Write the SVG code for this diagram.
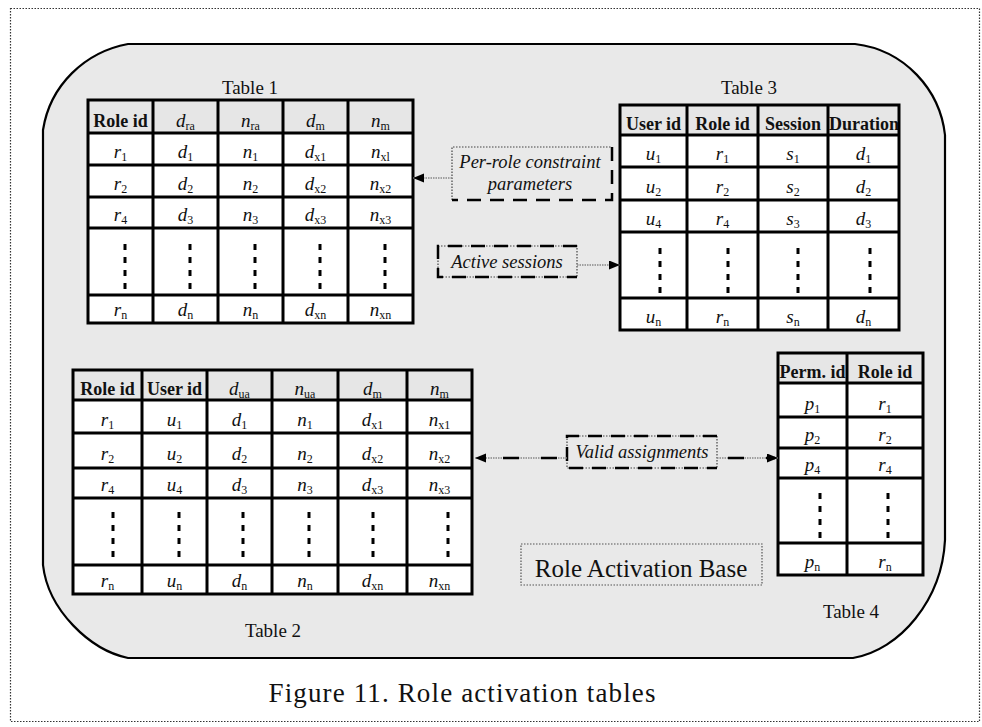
<svg xmlns="http://www.w3.org/2000/svg" width="982" height="727" viewBox="0 0 982 727">
<style>
.tl{fill:none;stroke:#000;stroke-width:3}
.hdr{fill:#e6e6e6}
.body{fill:#fff}
.h{font-family:"Liberation Serif","Times New Roman",serif;font-weight:bold;font-size:18px;text-anchor:middle;fill:#111}
.v{font-family:"Liberation Serif","Times New Roman",serif;font-style:italic;font-size:19px;text-anchor:middle;fill:#111}
.s{font-style:normal;font-size:12px}
.ttl{font-family:"Liberation Serif","Times New Roman",serif;font-size:19px;text-anchor:middle;fill:#111}
.lbl{font-family:"Liberation Serif","Times New Roman",serif;font-style:italic;font-size:18.5px;text-anchor:middle;fill:#111}
.dots{fill:none;stroke:#000;stroke-width:3;stroke-dasharray:6 7}
.thin{fill:none;stroke:#444;stroke-width:1.2;stroke-dasharray:1.5 1.5}
.thick{fill:none;stroke:#000;stroke-width:2.5;stroke-dasharray:14 9}
.conn{fill:none;stroke:#888;stroke-width:1.5;stroke-dasharray:1.5 1}
.conn2{fill:none;stroke:#000;stroke-width:2.5;stroke-dasharray:16 22}
</style>
<defs>
<marker id="ah" markerUnits="userSpaceOnUse" markerWidth="12" markerHeight="10" refX="11" refY="4.5" orient="auto">
<path d="M0,0 L11,4.5 L0,9 z" fill="#000"/>
</marker>
</defs>

<rect x="10.5" y="8.5" width="969" height="713" fill="#fff" stroke="#333" stroke-width="1.2" stroke-dasharray="1.5 1.5"/>

<path id="blob" d="M128,44 L855,44 C905,50 940,90 945,135 L945,540 C942,600 900,650 853,658 L128,658 C90,650 48,610 43,565 L43,130 C50,85 85,52 128,44 Z" fill="#e9e9e9" stroke="#000" stroke-width="2.2"/>

<g id="table1">
<text class="ttl" x="250" y="94">Table 1</text>
<rect class="hdr" x="88" y="100" width="325" height="33"/>
<rect class="body" x="88" y="133" width="325" height="190"/>
<path class="tl" d="M88,100H413V323H88Z M88,133H413 M88,165H413 M88,197H413 M88,228H413 M88,295H413 M153,100V323 M218,100V323 M283,100V323 M348,100V323"/>
<path class="dots" d="M125,244V289 M190,244V289 M255,244V289 M320,244V289 M385,244V289"/>
<text class="h" x="120.5" y="127">Role id</text>
<text class="v" x="185.5" y="127">d<tspan class="s" dy="3">ra</tspan></text>
<text class="v" x="250.5" y="127">n<tspan class="s" dy="3">ra</tspan></text>
<text class="v" x="315.5" y="127">d<tspan class="s" dy="3">m</tspan></text>
<text class="v" x="380.5" y="127">n<tspan class="s" dy="3">m</tspan></text>
<text class="v" x="120.5" y="158">r<tspan class="s" dy="3">1</tspan></text>
<text class="v" x="185.5" y="158">d<tspan class="s" dy="3">1</tspan></text>
<text class="v" x="250.5" y="158">n<tspan class="s" dy="3">1</tspan></text>
<text class="v" x="315.5" y="158">d<tspan class="s" dy="3">x1</tspan></text>
<text class="v" x="380.5" y="158">n<tspan class="s" dy="3">xl</tspan></text>
<text class="v" x="120.5" y="190">r<tspan class="s" dy="3">2</tspan></text>
<text class="v" x="185.5" y="190">d<tspan class="s" dy="3">2</tspan></text>
<text class="v" x="250.5" y="190">n<tspan class="s" dy="3">2</tspan></text>
<text class="v" x="315.5" y="190">d<tspan class="s" dy="3">x2</tspan></text>
<text class="v" x="380.5" y="190">n<tspan class="s" dy="3">x2</tspan></text>
<text class="v" x="120.5" y="221">r<tspan class="s" dy="3">4</tspan></text>
<text class="v" x="185.5" y="221">d<tspan class="s" dy="3">3</tspan></text>
<text class="v" x="250.5" y="221">n<tspan class="s" dy="3">3</tspan></text>
<text class="v" x="315.5" y="221">d<tspan class="s" dy="3">x3</tspan></text>
<text class="v" x="380.5" y="221">n<tspan class="s" dy="3">x3</tspan></text>
<text class="v" x="120.5" y="316">r<tspan class="s" dy="3">n</tspan></text>
<text class="v" x="185.5" y="316">d<tspan class="s" dy="3">n</tspan></text>
<text class="v" x="250.5" y="316">n<tspan class="s" dy="3">n</tspan></text>
<text class="v" x="315.5" y="316">d<tspan class="s" dy="3">xn</tspan></text>
<text class="v" x="380.5" y="316">n<tspan class="s" dy="3">xn</tspan></text>
</g>

<g id="table3">
<text class="ttl" x="749" y="94">Table 3</text>
<rect class="hdr" x="620" y="105" width="279" height="30"/>
<rect class="body" x="620" y="135" width="279" height="195"/>
<text class="h" x="653.5" y="130">User id</text>
<text class="h" x="722.5" y="130">Role id</text>
<text class="h" x="793" y="130">Session</text>
<text class="h" x="864" y="130">Duration</text>
<path class="tl" d="M620,105H899V330H620Z M620,135H899 M620,167H899 M620,200H899 M620,232H899 M620,298H899 M687,105V330 M758,105V330 M828,105V330"/>
<path class="dots" d="M660,248V293 M728,248V293 M798,248V293 M870,248V293"/>
<text class="v" x="653.5" y="160">u<tspan class="s" dy="3">1</tspan></text>
<text class="v" x="722.5" y="160">r<tspan class="s" dy="3">1</tspan></text>
<text class="v" x="793" y="160">s<tspan class="s" dy="3">1</tspan></text>
<text class="v" x="863.5" y="160">d<tspan class="s" dy="3">1</tspan></text>
<text class="v" x="653.5" y="193">u<tspan class="s" dy="3">2</tspan></text>
<text class="v" x="722.5" y="193">r<tspan class="s" dy="3">2</tspan></text>
<text class="v" x="793" y="193">s<tspan class="s" dy="3">2</tspan></text>
<text class="v" x="863.5" y="193">d<tspan class="s" dy="3">2</tspan></text>
<text class="v" x="653.5" y="225">u<tspan class="s" dy="3">4</tspan></text>
<text class="v" x="722.5" y="225">r<tspan class="s" dy="3">4</tspan></text>
<text class="v" x="793" y="225">s<tspan class="s" dy="3">3</tspan></text>
<text class="v" x="863.5" y="225">d<tspan class="s" dy="3">3</tspan></text>
<text class="v" x="653.5" y="323">u<tspan class="s" dy="3">n</tspan></text>
<text class="v" x="722.5" y="323">r<tspan class="s" dy="3">n</tspan></text>
<text class="v" x="793" y="323">s<tspan class="s" dy="3">n</tspan></text>
<text class="v" x="863.5" y="323">d<tspan class="s" dy="3">n</tspan></text>
</g>

<g id="table2">
<text class="ttl" x="273" y="637">Table 2</text>
<rect class="hdr" x="73" y="370" width="399" height="30"/>
<rect class="body" x="73" y="400" width="399" height="194"/>
<path class="tl" d="M73,370H472V594H73Z M73,400H472 M73,433H472 M73,468H472 M73,498H472 M73,565H472 M142,370V594 M207,370V594 M272,370V594 M338,370V594 M407,370V594"/>
<path class="dots" d="M113,512V558 M179,512V558 M243,512V558 M309,512V558 M373,512V558 M448,512V558"/>
<text class="h" x="107.5" y="395">Role id</text>
<text class="h" x="174.5" y="395">User id</text>
<text class="v" x="239.5" y="395">d<tspan class="s" dy="3">ua</tspan></text>
<text class="v" x="305" y="395">n<tspan class="s" dy="3">ua</tspan></text>
<text class="v" x="372.5" y="395">d<tspan class="s" dy="3">m</tspan></text>
<text class="v" x="439.5" y="395">n<tspan class="s" dy="3">m</tspan></text>
<text class="v" x="107.5" y="426">r<tspan class="s" dy="3">1</tspan></text>
<text class="v" x="174.5" y="426">u<tspan class="s" dy="3">1</tspan></text>
<text class="v" x="239.5" y="426">d<tspan class="s" dy="3">1</tspan></text>
<text class="v" x="305" y="426">n<tspan class="s" dy="3">1</tspan></text>
<text class="v" x="372.5" y="426">d<tspan class="s" dy="3">x1</tspan></text>
<text class="v" x="439.5" y="426">n<tspan class="s" dy="3">x1</tspan></text>
<text class="v" x="107.5" y="460">r<tspan class="s" dy="3">2</tspan></text>
<text class="v" x="174.5" y="460">u<tspan class="s" dy="3">2</tspan></text>
<text class="v" x="239.5" y="460">d<tspan class="s" dy="3">2</tspan></text>
<text class="v" x="305" y="460">n<tspan class="s" dy="3">2</tspan></text>
<text class="v" x="372.5" y="460">d<tspan class="s" dy="3">x2</tspan></text>
<text class="v" x="439.5" y="460">n<tspan class="s" dy="3">x2</tspan></text>
<text class="v" x="107.5" y="491">r<tspan class="s" dy="3">4</tspan></text>
<text class="v" x="174.5" y="491">u<tspan class="s" dy="3">4</tspan></text>
<text class="v" x="239.5" y="491">d<tspan class="s" dy="3">3</tspan></text>
<text class="v" x="305" y="491">n<tspan class="s" dy="3">3</tspan></text>
<text class="v" x="372.5" y="491">d<tspan class="s" dy="3">x3</tspan></text>
<text class="v" x="439.5" y="491">n<tspan class="s" dy="3">x3</tspan></text>
<text class="v" x="107.5" y="587">r<tspan class="s" dy="3">n</tspan></text>
<text class="v" x="174.5" y="587">u<tspan class="s" dy="3">n</tspan></text>
<text class="v" x="239.5" y="587">d<tspan class="s" dy="3">n</tspan></text>
<text class="v" x="305" y="587">n<tspan class="s" dy="3">n</tspan></text>
<text class="v" x="372.5" y="587">d<tspan class="s" dy="3">xn</tspan></text>
<text class="v" x="439.5" y="587">n<tspan class="s" dy="3">xn</tspan></text>
</g>

<g id="table4">
<text class="ttl" x="851" y="618">Table 4</text>
<rect class="hdr" x="778" y="353" width="145" height="30"/>
<rect class="body" x="778" y="383" width="145" height="192"/>
<text class="h" x="812.5" y="378">Perm. id</text>
<text class="h" x="885" y="378">Role id</text>
<path class="tl" d="M778,353H923V575H778Z M778,383H923 M778,417H923 M778,448H923 M778,478H923 M778,543H923 M847,353V575"/>
<path class="dots" d="M820,493V538 M888,493V538"/>
<text class="v" x="812.5" y="410">p<tspan class="s" dy="3">1</tspan></text>
<text class="v" x="885" y="410">r<tspan class="s" dy="3">1</tspan></text>
<text class="v" x="812.5" y="441">p<tspan class="s" dy="3">2</tspan></text>
<text class="v" x="885" y="441">r<tspan class="s" dy="3">2</tspan></text>
<text class="v" x="812.5" y="471">p<tspan class="s" dy="3">4</tspan></text>
<text class="v" x="885" y="471">r<tspan class="s" dy="3">4</tspan></text>
<text class="v" x="812.5" y="568">p<tspan class="s" dy="3">n</tspan></text>
<text class="v" x="885" y="568">r<tspan class="s" dy="3">n</tspan></text>
</g>

<g id="label-per-role">
<path class="thin" d="M452,200V147H612"/>
<path class="thick" d="M612,147V200H452"/>
<text class="lbl" x="530" y="168">Per-role constraint</text>
<text class="lbl" x="530" y="190">parameters</text>
</g>

<g id="label-active">
<path class="thin" d="M438,246H577V277H438Z"/>
<path class="thick" d="M577,246H438V277H577"/>
<text class="lbl" x="507" y="268">Active sessions</text>
</g>

<g id="label-valid">
<path class="thin" d="M567,436H717V468H567Z"/>
<path class="thick" d="M717,436H567V468H717"/>
<text class="lbl" x="642" y="458">Valid assignments</text>
</g>

<g id="label-base">
<rect x="521" y="544" width="241" height="41" fill="none" stroke="#555" stroke-width="1.2" stroke-dasharray="1.5 1.5"/>
<text x="641" y="577" font-family="Liberation Serif, Times New Roman, serif" font-size="25" text-anchor="middle" fill="#111">Role Activation Base</text>
</g>

<g id="connectors">
<line class="conn" x1="452" y1="178" x2="413" y2="178" marker-end="url(#ah)"/>
<line class="conn" x1="577" y1="265" x2="620" y2="265" marker-end="url(#ah)"/>
<line class="conn" x1="567" y1="458" x2="475" y2="458" marker-end="url(#ah)"/>
<line class="conn2" x1="557" y1="458" x2="480" y2="458"/>
<line class="conn" x1="717" y1="458" x2="778" y2="458" marker-end="url(#ah)"/>
<line class="conn2" x1="728" y1="458" x2="775" y2="458"/>
</g>

<text x="462" y="702" font-family="Liberation Serif, Times New Roman, serif" font-size="27" text-anchor="middle" fill="#111" textLength="387" lengthAdjust="spacing">Figure 11. Role activation tables</text>
</svg>
